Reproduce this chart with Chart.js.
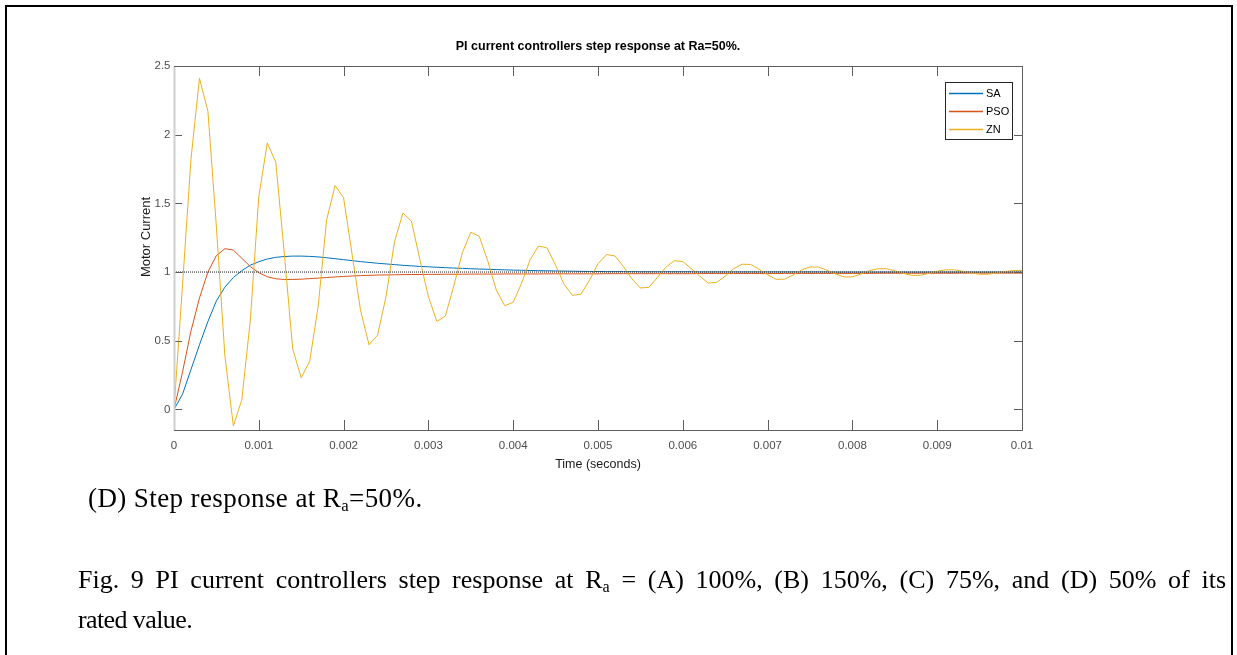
<!DOCTYPE html>
<html>
<head>
<meta charset="utf-8">
<title>PI current controllers step response</title>
<script src="https://cdn.jsdelivr.net/npm/chart.js@4.4.1/dist/chart.umd.min.js"></script>
<style>
  html, body { margin: 0; padding: 0; background: #fff; }
  body { width: 1237px; height: 655px; overflow: hidden; position: relative; }
  #frame {
    position: absolute; left: 5px; top: 5px; width: 1224px; height: 700px;
    border: 2px solid #000; border-bottom: none;
  }
  #stepChart { position: absolute; left: 0; top: 0; }
  .cap {
    position: absolute; color: #000;
    font-family: "Liberation Serif", "Times New Roman", serif;
    font-size: 26px; white-space: nowrap;
  }
  .cap sub { font-size: 0.62em; vertical-align: -0.22em; line-height: 0; }
  #subCaption { left: 88px; top: 483px; line-height: 30px; font-size: 27px; letter-spacing: 0.4px; }
  #figCaption { left: 78px; top: 560px; width: 1148px; line-height: 40px; }
  #figCaption .l1 { text-align: justify; text-align-last: justify; }
  #figCaption .l2 { letter-spacing: -0.6px; }
</style>
</head>
<body>
<div id="frame"></div>
<canvas id="stepChart" width="1237" height="655"></canvas>
<div class="cap" id="subCaption">(D) Step response at R<sub>a</sub>=50%.</div>
<div class="cap" id="figCaption">
  <div class="l1">Fig. 9 PI current controllers step response at R<sub>a</sub> = (A) 100%, (B) 150%, (C) 75%, and (D) 50% of its</div>
  <div class="l2">rated value.</div>
</div>

<script>
// sample instants (s)
var timeS = [
  0, 0.0001, 0.0002, 0.0003, 0.0004, 0.0005, 0.0006, 0.0007, 0.0008, 0.0009,
  0.001, 0.0011, 0.0012, 0.0013, 0.0014, 0.0015, 0.0016, 0.0017, 0.0018, 0.0019,
  0.002, 0.0021, 0.0022, 0.0023, 0.0024, 0.0025, 0.0026, 0.0027, 0.0028, 0.0029,
  0.003, 0.0031, 0.0032, 0.0033, 0.0034, 0.0035, 0.0036, 0.0037, 0.0038, 0.0039,
  0.004, 0.0041, 0.0042, 0.0043, 0.0044, 0.0045, 0.0046, 0.0047, 0.0048, 0.0049,
  0.005, 0.0051, 0.0052, 0.0053, 0.0054, 0.0055, 0.0056, 0.0057, 0.0058, 0.0059,
  0.006, 0.0061, 0.0062, 0.0063, 0.0064, 0.0065, 0.0066, 0.0067, 0.0068, 0.0069,
  0.007, 0.0071, 0.0072, 0.0073, 0.0074, 0.0075, 0.0076, 0.0077, 0.0078, 0.0079,
  0.008, 0.0081, 0.0082, 0.0083, 0.0084, 0.0085, 0.0086, 0.0087, 0.0088, 0.0089,
  0.009, 0.0091, 0.0092, 0.0093, 0.0094, 0.0095, 0.0096, 0.0097, 0.0098, 0.0099,
  0.01
];

// motor current, SA tuned controller
var saCurrent = [
  0, 0.11, 0.29, 0.47, 0.64, 0.79, 0.89, 0.96, 1.01, 1.05,
  1.075, 1.095, 1.107, 1.113, 1.116, 1.116, 1.114, 1.110, 1.104, 1.097,
  1.090, 1.083, 1.076, 1.070, 1.064, 1.059, 1.054, 1.049, 1.045, 1.041,
  1.038, 1.035, 1.032, 1.029, 1.027, 1.024, 1.022, 1.020, 1.018, 1.016,
  1.014, 1.013, 1.011, 1.010, 1.009, 1.008, 1.007, 1.006, 1.005, 1.004,
  1.004, 1.003, 1.003, 1.003, 1.003, 1.002, 1.002, 1.002, 1.002, 1.002,
  1.002, 1.002, 1.001, 1.001, 1.001, 1.001, 1.001, 1.001, 1.001, 1.001,
  1.001, 1.001, 1.001, 1.001, 1.001, 1.001, 1.001, 1.001, 1.000, 1.000,
  1.000, 1.000, 1.000, 1.000, 1.000, 1.000, 1.000, 1.000, 1.000, 1.000,
  1.000, 1.000, 1.000, 1.000, 1.000, 1.000, 1.000, 1.000, 1.000, 1.000,
  1.000
];

// motor current, PSO tuned controller
var psoCurrent = [
  0, 0.27, 0.57, 0.81, 1.00, 1.12, 1.17, 1.16, 1.10, 1.04,
  0.995, 0.966, 0.951, 0.946, 0.946, 0.948, 0.952, 0.956, 0.960, 0.964,
  0.968, 0.971, 0.974, 0.976, 0.978, 0.979, 0.980, 0.981, 0.982, 0.982,
  0.983, 0.983, 0.984, 0.984, 0.984, 0.985, 0.985, 0.985, 0.985, 0.986,
  0.986, 0.986, 0.986, 0.986, 0.987, 0.987, 0.987, 0.987, 0.987, 0.987,
  0.987, 0.988, 0.988, 0.988, 0.988, 0.988, 0.988, 0.988, 0.988, 0.988,
  0.988, 0.988, 0.989, 0.989, 0.989, 0.989, 0.989, 0.989, 0.989, 0.989,
  0.989, 0.989, 0.990, 0.990, 0.990, 0.990, 0.990, 0.990, 0.990, 0.990,
  0.990, 0.990, 0.990, 0.991, 0.991, 0.991, 0.991, 0.991, 0.991, 0.991,
  0.991, 0.991, 0.991, 0.992, 0.992, 0.992, 0.992, 0.992, 0.992, 0.992,
  0.992
];

// motor current, Ziegler-Nichols tuned controller
var znCurrent = [
  0, 0.9, 1.82, 2.41, 2.17, 1.33, 0.39, -0.12, 0.07, 0.65,
  1.55, 1.94, 1.80, 1.14, 0.44, 0.23, 0.35, 0.75, 1.38, 1.63,
  1.54, 1.13, 0.72, 0.47, 0.54, 0.82, 1.22, 1.43, 1.37, 1.09,
  0.82, 0.64, 0.68, 0.90, 1.14, 1.29, 1.26, 1.08, 0.87, 0.755,
  0.78, 0.92, 1.09, 1.19, 1.175, 1.05, 0.91, 0.83, 0.84, 0.94,
  1.06, 1.127, 1.117, 1.04, 0.95, 0.884, 0.889, 0.96, 1.035, 1.083,
  1.076, 1.025, 0.97, 0.92, 0.925, 0.97, 1.025, 1.057, 1.055, 1.02,
  0.98, 0.947, 0.948, 0.978, 1.015, 1.037, 1.036, 1.013, 0.987, 0.964,
  0.965, 0.985, 1.01, 1.024, 1.024, 1.009, 0.991, 0.976, 0.976, 0.99,
  1.006, 1.016, 1.016, 1.006, 0.994, 0.984, 0.984, 0.993, 1.004, 1.011,
  1.011
];

// step reference
var refTime = [0, 0.01];
var refLevel = [1, 1];

var xTickValues = [0, 0.001, 0.002, 0.003, 0.004, 0.005, 0.006, 0.007, 0.008, 0.009, 0.01];
var yTickValues = [0, 0.5, 1, 1.5, 2, 2.5];

var plotTitle = 'PI current controllers step response at Ra=50%.';
var yLabel = 'Motor Current';

function toPoints(xs, ys) {
  return xs.map(function (x, i) { return { x: x, y: ys[i] }; });
}

// box round the axes, with the ticks pointing inwards on all four sides
var axesBox = {
  id: 'axesBox',
  afterDatasetsDraw: function (chart) {
    var ctx = chart.ctx, a = chart.chartArea;
    var xs = chart.scales.x, ys = chart.scales.y;
    ctx.save();
    ctx.lineWidth = 1;
    ctx.strokeStyle = '#5e5e5e';
    ctx.beginPath();
    xs.ticks.forEach(function (t) {
      var px = Math.round(xs.getPixelForValue(t.value)) + 0.5;
      ctx.moveTo(px, a.bottom); ctx.lineTo(px, a.bottom - 10);
      ctx.moveTo(px, a.top); ctx.lineTo(px, a.top + 10);
    });
    ys.ticks.forEach(function (t) {
      var py = Math.round(ys.getPixelForValue(t.value)) + 0.5;
      ctx.moveTo(a.left, py); ctx.lineTo(a.left + 8, py);
      ctx.moveTo(a.right, py); ctx.lineTo(a.right - 8, py);
    });
    ctx.moveTo(a.left, a.top + 0.5); ctx.lineTo(a.right + 0.5, a.top + 0.5);
    ctx.lineTo(a.right + 0.5, a.bottom + 0.5); ctx.lineTo(a.left, a.bottom + 0.5);
    ctx.stroke();
    // left spine is lighter
    ctx.strokeStyle = '#cfcfcf';
    ctx.lineWidth = 2;
    ctx.beginPath();
    ctx.moveTo(a.left + 0.5, a.top + 1); ctx.lineTo(a.left + 0.5, a.bottom);
    ctx.stroke();
    ctx.restore();
  }
};

// plot title centred over the axes, y label slightly above the axes middle
var axesText = {
  id: 'axesText',
  afterDraw: function (chart) {
    var ctx = chart.ctx, a = chart.chartArea;
    ctx.save();
    ctx.textAlign = 'center';
    ctx.textBaseline = 'middle';
    ctx.fillStyle = '#000';
    ctx.font = 'bold 12.5px "Liberation Sans", Arial, sans-serif';
    ctx.fillText(plotTitle, (a.left + a.right) / 2, a.top - 19);
    ctx.fillStyle = '#1a1a1a';
    ctx.font = '13px "Liberation Sans", Arial, sans-serif';
    ctx.translate(a.left - 28, (a.top + a.bottom) / 2 - 11);
    ctx.rotate(-Math.PI / 2);
    ctx.fillText(yLabel, 0, 0);
    ctx.restore();
  }
};

// legend drawn as a framed box in the upper right corner of the axes
var boxLegend = {
  id: 'boxLegend',
  afterDraw: function (chart) {
    var ctx = chart.ctx, a = chart.chartArea;
    var items = chart.data.datasets.filter(function (d) { return !d.noLegend; });
    var w = 67, h = 57, rowH = 18.2;
    var left = a.right - 10 - w, top = a.top + 16;
    ctx.save();
    ctx.fillStyle = '#fff';
    ctx.fillRect(left, top, w, h);
    ctx.strokeStyle = '#262626';
    ctx.lineWidth = 1;
    ctx.strokeRect(left + 0.5, top + 0.5, w, h);
    ctx.font = '11px "Liberation Sans", Arial, sans-serif';
    ctx.textBaseline = 'middle';
    items.forEach(function (d, i) {
      var cy = Math.round(top + 10.7 + i * rowH) + 0.5;
      ctx.strokeStyle = d.borderColor;
      ctx.lineWidth = 1.5;
      ctx.beginPath();
      ctx.moveTo(left + 4, cy); ctx.lineTo(left + 38, cy);
      ctx.stroke();
      ctx.fillStyle = '#000';
      ctx.fillText(d.label, left + 41, cy);
    });
    ctx.restore();
  }
};

Chart.defaults.font.family = '"Liberation Sans", Arial, sans-serif';

new Chart(document.getElementById('stepChart'), {
  type: 'line',
  data: {
    datasets: [
      { label: 'SA', data: toPoints(timeS, saCurrent), borderColor: '#0072BD', order: 4 },
      { label: 'PSO', data: toPoints(timeS, psoCurrent), borderColor: '#D95319', order: 3 },
      { label: 'ZN', data: toPoints(timeS, znCurrent), borderColor: '#EDB120', order: 2 },
      { label: 'ref', data: toPoints(refTime, refLevel), borderColor: '#1a1a1a',
        borderDash: [1, 1], order: 1, noLegend: true }
    ]
  },
  options: {
    responsive: false,
    devicePixelRatio: 1,
    animation: false,
    elements: {
      line: { borderWidth: 1, tension: 0 },
      point: { radius: 0, hoverRadius: 0 }
    },
    layout: { padding: { left: 0, right: 215, top: 66, bottom: 181 } },
    scales: {
      x: {
        type: 'linear', min: 0, max: 0.01,
        afterBuildTicks: function (s) { s.ticks = xTickValues.map(function (v) { return { value: v }; }); },
        afterFit: function (s) { s.height = 44; },
        grid: { display: false, drawTicks: false },
        border: { display: false },
        ticks: {
          padding: 9, maxRotation: 0, autoSkip: false, color: '#4d4d4d',
          font: { size: 11.5 },
          callback: function (v) { return String(v); }
        },
        title: {
          display: true, text: 'Time (seconds)', color: '#1a1a1a',
          font: { size: 12.5 }, padding: { top: 0, bottom: 1.8 }
        }
      },
      y: {
        type: 'linear', min: -0.15, max: 2.5,
        afterBuildTicks: function (s) { s.ticks = yTickValues.map(function (v) { return { value: v }; }); },
        afterFit: function (s) { s.width = 174; },
        grid: { display: false, drawTicks: false },
        border: { display: false },
        ticks: {
          padding: 3.5, color: '#4d4d4d', font: { size: 11.5 },
          callback: function (v) { return String(v); }
        }
      }
    },
    plugins: {
      legend: { display: false },
      tooltip: { enabled: false },
      title: { display: false }
    }
  },
  plugins: [axesBox, axesText, boxLegend]
});
</script>
</body>
</html>
